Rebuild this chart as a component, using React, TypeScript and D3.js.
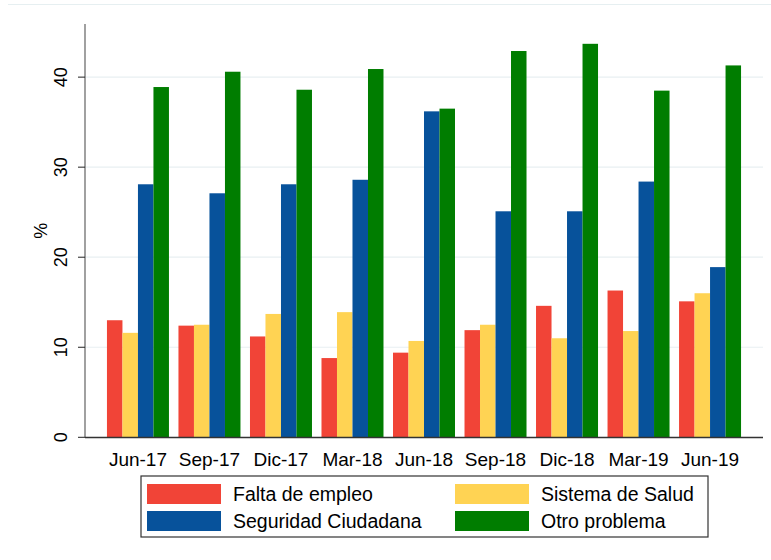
import React from "react";
import * as d3 from "d3";

const categories = ["Jun-17", "Sep-17", "Dic-17", "Mar-18", "Jun-18", "Sep-18", "Dic-18", "Mar-19", "Jun-19"];
const seriesNames = ["Falta de empleo", "Sistema de Salud", "Seguridad Ciudadana", "Otro problema"];
const faltaEmpleo = [13.0, 12.4, 11.2, 8.8, 9.4, 11.9, 14.6, 16.3, 15.1];
const sistemaSalud = [11.6, 12.5, 13.7, 13.9, 10.7, 12.5, 11.0, 11.8, 16.0];
const seguridadCiudadana = [28.1, 27.1, 28.1, 28.6, 36.2, 25.1, 25.1, 28.4, 18.9];
const otroProblema = [38.9, 40.6, 38.6, 40.9, 36.5, 42.9, 43.7, 38.5, 41.3];
const yTicks = [0, 10, 20, 30, 40];
const colors = ["#f14437", "#ffd353", "#07529b", "#007d00"];

const allSeries = [faltaEmpleo, sistemaSalud, seguridadCiudadana, otroProblema];

const W = 771;
const H = 560;
const FONT = "'Liberation Sans', Arial, Helvetica, sans-serif";

export default function App() {
  const x0 = d3
    .scaleBand<string>()
    .domain(categories)
    .range([85, 763])
    .paddingInner(0.133)
    .paddingOuter(0.307);
  const x1 = d3
    .scaleBand<string>()
    .domain(seriesNames)
    .range([0, x0.bandwidth()])
    .padding(0);
  const y = d3.scaleLinear().domain([0, 45.9]).range([437.3, 24]);

  const legendItems = seriesNames.map((name, i) => ({
    name,
    color: colors[i],
    col: i % 2,
    row: Math.floor(i / 2),
  }));

  return (
    <svg
      width={W}
      height={H}
      style={{ position: "absolute", left: 0, top: 0, background: "#ffffff" }}
      fontFamily={FONT}
    >
      <rect x={0} y={0} width={W} height={H} fill="#ffffff" />
      {/* faint outer frame line */}
      <line x1={8} x2={W} y1={4.5} y2={4.5} stroke="#e6eff1" strokeWidth={1} />

      {/* gridlines */}
      {yTicks
        .filter((t) => t > 0)
        .map((t) => (
          <line
            key={"g" + t}
            x1={85}
            x2={763}
            y1={y(t)}
            y2={y(t)}
            stroke="#e8eff2"
            strokeWidth={1.2}
          />
        ))}

      {/* bars */}
      {categories.map((c, ci) => (
        <g key={c} transform={`translate(${x0(c)},0)`}>
          {allSeries.map((s, si) => (
            <rect
              key={si}
              x={x1(seriesNames[si])}
              y={y(s[ci])}
              width={x1.bandwidth()}
              height={y(0) - y(s[ci])}
              fill={colors[si]}
            />
          ))}
        </g>
      ))}

      {/* y axis */}
      <line x1={85} x2={85} y1={24} y2={437.3} stroke="#6e6e6e" strokeWidth={1.3} />
      {yTicks.map((t) => (
        <g key={"t" + t}>
          <line x1={78} x2={85} y1={y(t)} y2={y(t)} stroke="#222" strokeWidth={1} />
          <text
            transform={`translate(67,${y(t)}) rotate(-90)`}
            textAnchor="middle"
            fontSize={18}
            fill="#000"
          >
            {t}
          </text>
        </g>
      ))}
      <text
        transform={`translate(47,${(24 + 437.3) / 2}) rotate(-90)`}
        textAnchor="middle"
        fontSize={18}
        fill="#000"
      >
        %
      </text>

      {/* x axis */}
      <line x1={85} x2={763} y1={437.5} y2={437.5} stroke="#333" strokeWidth={1.3} />
      {categories.map((c) => (
        <text
          key={"x" + c}
          x={(x0(c) as number) + x0.bandwidth() / 2}
          y={466}
          textAnchor="middle"
          fontSize={19}
          fill="#000"
        >
          {c}
        </text>
      ))}

      {/* legend */}
      <rect x={141} y={476} width={567} height={61} fill="#fff" stroke="#333" strokeWidth={1.2} />
      {legendItems.map((it) => {
        const sx = it.col === 0 ? 147 : 455;
        const sy = it.row === 0 ? 484 : 511;
        return (
          <g key={it.name}>
            <rect x={sx} y={sy} width={74} height={20} fill={it.color} />
            <text x={sx + 86} y={sy + 17} fontSize={19.5} fill="#000">
              {it.name}
            </text>
          </g>
        );
      })}
    </svg>
  );
}
